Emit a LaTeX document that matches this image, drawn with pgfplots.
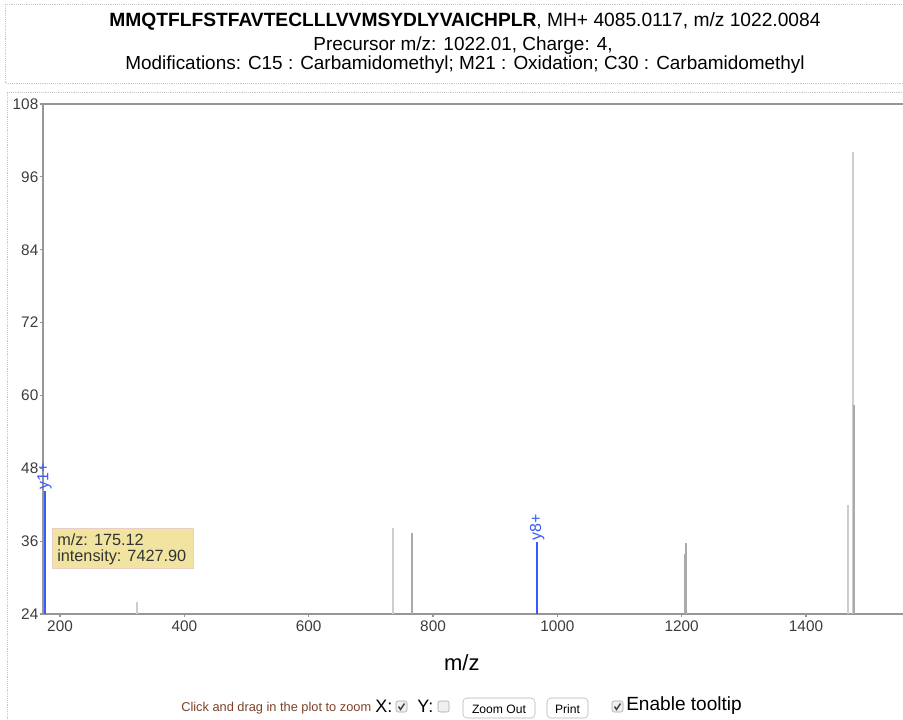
\documentclass[border=0pt]{standalone}
\usepackage{fontspec}
\setmainfont{Liberation Sans}
\usepackage{pgfplots}
\pgfplotsset{compat=1.18}

\definecolor{peaklight}{RGB}{205,205,205}
\definecolor{peakdark}{RGB}{170,170,170}
\definecolor{ionblue}{RGB}{55,90,250}
\definecolor{tipfill}{RGB}{240,228,160}
\definecolor{tipedge}{RGB}{235,205,200}
\definecolor{dotgray}{RGB}{195,200,205}
\definecolor{axisgray}{RGB}{150,150,150}
\definecolor{labelgray}{RGB}{60,60,60}
\definecolor{hintbrown}{RGB}{125,65,40}
\newcommand\fs[1]{\fontsize{#1}{#1}\selectfont}
% a small checkbox, #1 = x, #2 = y (pixels), #3 = checked (1/0)
\newcommand\checkbox[3]{%
  \draw[gray!70, fill=gray!12, rounded corners=1.5] (#1,#2) rectangle ++(11,11);
  \ifnum#3=1 \draw[black!75, line width=1.1pt] (#1+2.5,#2+5.5) -- (#1+4.5,#2+8.5) -- (#1+8.5,#2+2.5);\fi}

\begin{document}
\begin{tikzpicture}[x=0.75pt,y=-0.75pt]
\useasboundingbox (0,0) rectangle (903,719);

% page frames
\draw[dotgray, densely dotted] (5,4) -- (903,4);
\draw[dotgray, densely dotted] (5,4) -- (5,83) -- (903,83);
\draw[dotgray, densely dotted] (7,719) -- (7,92) -- (903,92);

% header
\node[font=\fs{14.4}] at (465,21) {\textbf{MMQTFLFSTFAVTECLLLVVMSYDLYVAICHPLR}, MH+ 4085.0117, m/z 1022.0084};
\node[font=\fs{14.2}] at (463,46) {Precursor m/z: 1022.01, Charge: 4,};
\node[font=\fs{14.2}] at (465,65) {Modifications: C15 : Carbamidomethyl; M21 : Oxidation; C30 : Carbamidomethyl};

\coordinate (origin) at (43,614);
\begin{scope}[x=1pt,y=1pt]
\begin{axis}[
    at={(origin)}, anchor=south west,
    scale only axis,
    width=645pt, height=382.5pt,
    xmin=172.6, xmax=1556,
    ymin=24, ymax=108,
    axis x line=bottom, axis y line=left,
    axis line style={-, draw=axisgray, line width=1.2pt},
    xtick={200,400,...,1400},
    ytick={24,36,...,108},
    tick align=outside,
    major tick length=2.5pt,
    tick style={axisgray, line width=0.9pt},
    ticklabel style={font=\fs{11.5}, text=labelgray},
    yticklabel style={xshift=2.5pt},
    xticklabel style={yshift=1pt},
    /pgf/number format/assume math mode=true,
    /pgf/number format/1000 sep={},
    xlabel={m/z},
    xlabel style={font=\fs{16.5}, at={(axis description cs:0.487,-0.096)}, anchor=center},
    clip=false,
]
% top border of the plot area
\draw[axisgray, line width=1.2pt] (axis cs:172.6,108) -- (axis cs:1556,108);

% unmatched peaks
\addplot+[ycomb, no marks, draw=peaklight, line width=1.3pt] coordinates {
    (324,26.0) (736,38.2) (1467.4,42.0) (1475.5,100.1)
};
\addplot+[ycomb, no marks, draw=peakdark, line width=1.1pt] coordinates {
    (766,37.4) (1205.5,33.9) (1207,35.7) (1477,58.5)
};

% matched ions
\addplot+[ycomb, no marks, draw=ionblue, line width=1.5pt] coordinates {
    (175.12,44.3) (967.5,35.9)
};
\node[rotate=90, anchor=west, inner sep=1pt, text=ionblue, font=\fs{12}] at (axis cs:175.12,44.3) {y1+};
\node[rotate=90, anchor=west, inner sep=1pt, text=ionblue, font=\fs{12}] at (axis cs:967.5,35.9) {y8+};
\end{axis}
\end{scope}

% tooltip
\draw[tipedge, fill=tipfill] (52,528) rectangle (193,568);
\node[anchor=west, inner sep=0pt, font=\fs{12.2}, text=black!80] at (57,540) {m/z: 175.12};
\node[anchor=west, inner sep=0pt, font=\fs{12.2}, text=black!80] at (57,557) {intensity: 7427.90};

% controls
\node[anchor=west, inner sep=0pt, text=hintbrown, font=\fs{9.6}] at (181,708) {Click and drag in the plot to zoom};
\node[anchor=west, inner sep=0pt, font=\fs{13.5}] at (375,706) {X:};
\checkbox{396}{701}{1}
\node[anchor=west, inner sep=0pt, font=\fs{13.5}] at (417,706) {Y:};
\checkbox{438}{701}{0}
\draw[gray!60, rounded corners=3] (463,698) rectangle (535,718);
\node[font=\fs{9.1}] at (499,709) {Zoom Out};
\draw[gray!60, rounded corners=3] (547,698) rectangle (588,718);
\node[font=\fs{9.1}] at (567.5,709) {Print};
\checkbox{612}{701}{1}
\node[anchor=west, inner sep=0pt, font=\fs{14.3}] at (626,706) {Enable tooltip};
\end{tikzpicture}
\end{document}
